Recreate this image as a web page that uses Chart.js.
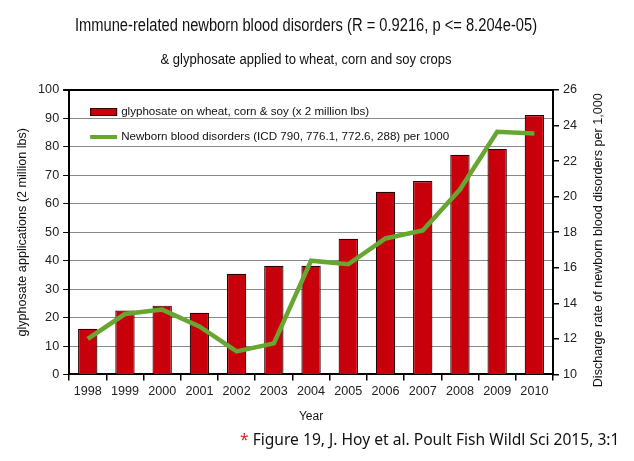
<!DOCTYPE html>
<html>
<head>
<meta charset="utf-8">
<script src="https://cdn.jsdelivr.net/npm/chart.js@4.4.1/dist/chart.umd.min.js"></script>
<style>
    html, body { margin: 0; padding: 0; background: #fff; }
    #wrap { position: relative; width: 634px; height: 461px; }
    #wrap canvas { position: absolute; left: 0; top: 0; }
    .head { position: absolute; left: 0; width: 612px; text-align: center; color: #111;
            font-family: "Liberation Sans", Arial, sans-serif; white-space: nowrap; }
    #title { top: 15px; font-size: 17.5px; transform: scaleX(0.84); }
    #subtitle { top: 51px; font-size: 14px; transform: scaleX(0.93); }
    #caption { position: absolute; left: 240px; top: 428px; font-family: "Noto Sans", sans-serif;
               font-size: 15.6px; color: #111; white-space: nowrap; }
    #caption span { color: #e0202a; }
</style>
</head>
<body>
<div id="wrap">
    <canvas id="chart" width="634" height="461"></canvas>
    <div class="head" id="title">Immune-related newborn blood disorders (R = 0.9216, p &lt;= 8.204e-05)</div>
    <div class="head" id="subtitle">&amp; glyphosate applied to wheat, corn and soy crops</div>
    <div id="caption"><span>*</span> Figure 19, J. Hoy et al. Poult Fish Wildl Sci 2015, 3:1</div>
</div>
<script>
// --- data ---
const years = ['1998', '1999', '2000', '2001', '2002', '2003', '2004', '2005', '2006', '2007', '2008', '2009', '2010'];
const glyphosate = [16.1, 22.5, 24.2, 21.7, 35.4, 38.2, 38.2, 47.7, 64.2, 68.0, 77.2, 79.3, 91.2];
const bloodDisorders = [12.0, 13.4, 13.65, 12.7, 11.3, 11.75, 16.4, 16.2, 17.65, 18.1, 20.4, 23.65, 23.55];
const seriesLabels = [
    'glyphosate on wheat, corn & soy (x 2 million lbs)',
    'Newborn blood disorders (ICD 790, 776.1, 772.6, 288) per 1000'
];
const leftRange = [0, 100, 10];   // min, max, step
const rightRange = [10, 26, 2];
const rightTitle = 'Discharge rate of newborn blood disorders per 1,000';

const RED = '#c8000b';
const GREEN = '#67a630';
const FONT = "'Liberation Sans', Arial, sans-serif";

// legend drawn inside the plot, top-left
const insideLegend = {
    id: 'insideLegend',
    afterDraw(chart) {
        const ctx = chart.ctx;
        const x = chart.chartArea.left + 21;
        const y = chart.chartArea.top + 22;
        ctx.save();
        ctx.font = '11.6px ' + FONT;
        ctx.textBaseline = 'middle';
        // bar swatch
        ctx.fillStyle = RED;
        ctx.fillRect(x, y - 4, 27, 8);
        ctx.strokeStyle = '#3a0000';
        ctx.lineWidth = 1;
        ctx.strokeRect(x + 0.5, y - 3.5, 26, 7);
        // line swatch
        ctx.fillStyle = GREEN;
        ctx.fillRect(x, y + 23, 27, 4);
        ctx.fillStyle = '#111';
        ctx.fillText(chart.data.datasets[0].label, x + 31, y);
        ctx.fillText(chart.data.datasets[1].label, x + 31, y + 25);
        ctx.restore();
    }
};

// right axis title reads bottom-to-top in the original
const rightAxisTitle = {
    id: 'rightAxisTitle',
    afterDraw(chart) {
        const ctx = chart.ctx;
        const a = chart.chartArea;
        ctx.save();
        ctx.translate(a.right + 46, (a.top + a.bottom) / 2 + 8);
        ctx.rotate(-Math.PI / 2);
        ctx.font = '12.6px ' + FONT;
        ctx.fillStyle = '#111';
        ctx.textAlign = 'center';
        ctx.textBaseline = 'middle';
        ctx.fillText(rightTitle, 0, 0);
        ctx.restore();
    }
};

new Chart(document.getElementById('chart'), {
    data: {
        labels: years,
        datasets: [{
            type: 'bar',
            label: seriesLabels[0],
            data: glyphosate,
            yAxisID: 'y',
            backgroundColor: RED,
            borderColor: '#2a0000',
            borderWidth: 1.2,
            categoryPercentage: 1,
            barPercentage: 0.52,
            order: 2
        }, {
            type: 'line',
            label: seriesLabels[1],
            data: bloodDisorders,
            yAxisID: 'y1',
            borderColor: GREEN,
            borderWidth: 4.5,
            pointRadius: 0,
            tension: 0,
            order: 1
        }]
    },
    options: {
        responsive: false,
        animation: false,
        layout: { padding: { top: 90, right: 53, bottom: 33, left: 11 } },
        plugins: {
            legend: { display: false },
            tooltip: { enabled: false }
        },
        scales: {
            x: {
                grid: { drawOnChartArea: false, tickLength: 6, tickColor: '#000', lineWidth: 1.5 },
                border: { color: '#000', width: 2 },
                ticks: { color: '#222', font: { family: FONT, size: 12.6 }, padding: 3 },
                title: { display: true, text: 'Year', color: '#111', font: { family: FONT, size: 12 }, padding: { top: 8 } }
            },
            y: {
                position: 'left',
                min: leftRange[0], max: leftRange[1],
                ticks: { stepSize: leftRange[2], color: '#222', font: { family: FONT, size: 12.6 }, padding: 4 },
                grid: {
                    color: (c) => (c.tick && c.tick.value === leftRange[1] ? '#000' : '#8a8a8a'),
                    lineWidth: (c) => (c.tick && c.tick.value === leftRange[1] ? 2 : 1),
                    tickColor: '#000', tickLength: 6
                },
                border: { color: '#000', width: 2 },
                title: { display: true, text: 'glyphosate applications (2 million lbs)', color: '#111', font: { family: FONT, size: 12.6 }, padding: { bottom: 4 } }
            },
            y1: {
                position: 'right',
                min: rightRange[0], max: rightRange[1],
                ticks: { stepSize: rightRange[2], color: '#222', font: { family: FONT, size: 12.6 }, padding: 4 },
                grid: { drawOnChartArea: false, tickColor: '#000', tickLength: 6, lineWidth: 1.5 },
                border: { color: '#000', width: 2 }
            }
        }
    },
    plugins: [insideLegend, rightAxisTitle]
});
</script>
</body>
</html>
